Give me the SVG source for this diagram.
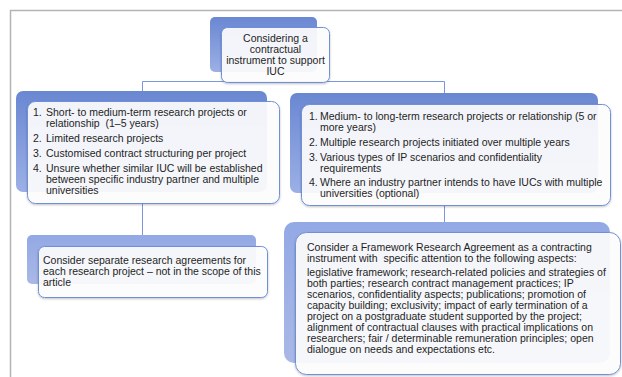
<svg xmlns="http://www.w3.org/2000/svg" width="622" height="377" viewBox="0 0 622 377">
<defs>
<linearGradient id="gb" x1="0" y1="0" x2="0" y2="1">
<stop offset="0" stop-color="#6a87d2"/>
<stop offset="1" stop-color="#9cb0e6"/>
</linearGradient>
<linearGradient id="gl" x1="0" y1="0" x2="0" y2="1">
<stop offset="0" stop-color="#93a9e5"/>
<stop offset="1" stop-color="#a9b8e6"/>
</linearGradient>
<filter id="sh" x="-10%" y="-10%" width="120%" height="130%">
<feDropShadow dx="0" dy="1" stdDeviation="0.8" flood-color="#000" flood-opacity="0.25"/>
</filter>
</defs>
<style>
.back{fill:url(#gb);}
.backl{fill:url(#gl);}
.front{fill:#ffffff;fill-opacity:0.9;stroke:#6f8fd9;stroke-width:1;}
text{font-family:"Liberation Sans",Arial,sans-serif;font-size:10.5px;fill:#1e1e1e;white-space:pre;}
.c{text-anchor:middle;}
.conn{fill:none;stroke:#7b97dc;stroke-width:1;}
.frame{fill:none;stroke:#b4b4b4;stroke-width:1.5;}
</style>
<rect width="622" height="377" fill="#ffffff"/>
<path class="frame" d="M10.5,377 V10.5 H622"/>
<g id="connectors">
<path class="conn" d="M275,83 V81.5 H142.5 V91"/>
<path class="conn" d="M275,81.5 H444.5 V93"/>
<path class="conn" d="M142.5,204 V235"/>
<path class="conn" d="M444.5,206 V222"/>
</g>
<g id="n-top">
<rect class="back" x="210" y="17" width="107" height="55" rx="5"/>
<rect class="front" x="221.5" y="27.5" width="108" height="55" rx="6" filter="url(#sh)"/>
<text class="c" x="275.5" y="42">Considering a</text>
<text class="c" x="275.5" y="53">contractual</text>
<text class="c" x="275.5" y="64">instrument to support</text>
<text class="c" x="275.5" y="75">IUC</text>
</g>
<g id="n-left">
<rect class="back" x="16" y="91" width="251" height="101" rx="7"/>
<rect class="front" x="27.5" y="101.5" width="252" height="102" rx="8" filter="url(#sh)"/>
<text x="33" y="116">1.</text>
<text x="46" y="116">Short- to medium-term research projects or</text>
<text x="46" y="127">relationship  (1–5 years)</text>
<text x="33" y="142">2.</text>
<text x="46" y="142">Limited research projects</text>
<text x="33" y="157">3.</text>
<text x="46" y="157">Customised contract structuring per project</text>
<text x="33" y="172">4.</text>
<text x="46" y="172">Unsure whether similar IUC will be established</text>
<text x="46" y="183">between specific industry partner and multiple</text>
<text x="46" y="194">universities</text>
</g>
<g id="n-right">
<rect class="back" x="290" y="93" width="308" height="100" rx="7"/>
<rect class="front" x="301.5" y="104.5" width="309" height="101" rx="8" filter="url(#sh)"/>
<text x="309" y="120">1.</text>
<text x="320" y="120">Medium- to long-term research projects or relationship (5 or</text>
<text x="320" y="131">more years)</text>
<text x="309" y="146">2.</text>
<text x="320" y="146">Multiple research projects initiated over multiple years</text>
<text x="309" y="161">3.</text>
<text x="320" y="161">Various types of IP scenarios and confidentiality</text>
<text x="320" y="172">requirements</text>
<text x="309" y="186">4.</text>
<text x="320" y="186">Where an industry partner intends to have IUCs with multiple</text>
<text x="320" y="197">universities (optional)</text>
</g>
<g id="n-left-bottom">
<rect class="backl" x="27" y="235" width="229" height="49" rx="5"/>
<rect class="front" x="38.5" y="246.5" width="229" height="51" rx="6" filter="url(#sh)"/>
<text x="43" y="264">Consider separate research agreements for</text>
<text x="43" y="275">each research project – not in the scope of this</text>
<text x="43" y="286">article</text>
</g>
<g id="n-right-bottom">
<rect class="backl" x="284" y="222" width="326" height="141" rx="10"/>
<rect class="front" x="295.5" y="232.5" width="325" height="142" rx="11" filter="url(#sh)"/>
<text x="307" y="251">Consider a Framework Research Agreement as a contracting</text>
<text x="307" y="262">instrument with  specific attention to the following aspects:</text>
<text x="307" y="276">legislative framework; research-related policies and strategies of</text>
<text x="307" y="287">both parties; research contract management practices; IP</text>
<text x="307" y="298">scenarios, confidentiality aspects; publications; promotion of</text>
<text x="307" y="309">capacity building; exclusivity; impact of early termination of a</text>
<text x="307" y="320">project on a postgraduate student supported by the project;</text>
<text x="307" y="331">alignment of contractual clauses with practical implications on</text>
<text x="307" y="342">researchers; fair / determinable remuneration principles; open</text>
<text x="307" y="353">dialogue on needs and expectations etc.</text>
</g>
</svg>
